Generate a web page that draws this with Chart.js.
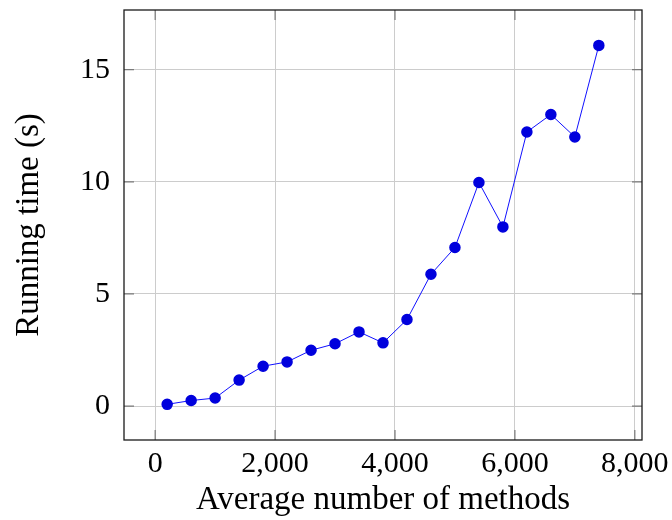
<!DOCTYPE html>
<html>
<head>
<meta charset="utf-8">
<script src="https://cdn.jsdelivr.net/npm/chart.js@4.4.1/dist/chart.umd.min.js"></script>
<style>
  html, body { margin: 0; padding: 0; background: #fff; }
  #wrap { width: 672px; height: 520px; }
</style>
</head>
<body>
<div id="wrap"><canvas id="c" width="672" height="520"></canvas></div>
<script>
// Average number of methods per program
const methods = [200, 600, 1000, 1400, 1800, 2200, 2600, 3000, 3400, 3800,
                 4200, 4600, 5000, 5400, 5800, 6200, 6600, 7000, 7400];
// Running time in seconds
const runningTime = [0.08, 0.25, 0.36, 1.16, 1.78, 1.97, 2.49, 2.78, 3.31, 2.82,
                     3.86, 5.88, 7.07, 9.97, 7.99, 12.22, 13.0, 12.0, 16.08];
const xTicks = [0, 2000, 4000, 6000, 8000];
const yTicks = [0, 5, 10, 15];

const FONT = "'Liberation Serif', 'DejaVu Serif', serif";

// Frame around the plot plus short inward tick marks on all four sides
const framePlugin = {
  id: 'frame',
  afterDatasetsDraw(chart) {
    const { ctx, chartArea: a, scales } = chart;
    ctx.save();
    ctx.strokeStyle = '#7a7a7a';
    ctx.lineWidth = 1.2;
    const len = 10;
    ctx.beginPath();
    scales.x.ticks.forEach(t => {
      const px = scales.x.getPixelForValue(t.value);
      ctx.moveTo(px, a.bottom); ctx.lineTo(px, a.bottom - len);
      ctx.moveTo(px, a.top); ctx.lineTo(px, a.top + len);
    });
    scales.y.ticks.forEach(t => {
      const py = scales.y.getPixelForValue(t.value);
      ctx.moveTo(a.left, py); ctx.lineTo(a.left + len, py);
      ctx.moveTo(a.right, py); ctx.lineTo(a.right - len, py);
    });
    ctx.stroke();
    ctx.strokeStyle = '#1a1a1a';
    ctx.lineWidth = 1.3;
    ctx.strokeRect(a.left, a.top, a.right - a.left, a.bottom - a.top);
    ctx.restore();
  }
};

new Chart(document.getElementById('c'), {
  type: 'line',
  data: {
    datasets: [{
      data: methods.map((m, i) => ({ x: m, y: runningTime[i] })),
      borderColor: '#1010ff',
      borderWidth: 1,
      pointBackgroundColor: '#0000dd',
      pointBorderColor: '#0000dd',
      pointBorderWidth: 1.5,
      pointRadius: 5,
      tension: 0,
      fill: false
    }]
  },
  options: {
    responsive: false,
    animation: false,
    devicePixelRatio: 1,
    layout: { padding: { top: 10, right: 30, left: 0, bottom: 0 } },
    plugins: { legend: { display: false }, tooltip: { enabled: false } },
    scales: {
      x: {
        type: 'linear',
        min: -520,
        max: 8120,
        afterBuildTicks: s => { s.ticks = xTicks.map(v => ({ value: v })); },
        afterFit: s => { s.height = 80; s.paddingLeft = 0; s.paddingRight = 0; },
        grid: { color: '#cccccc', lineWidth: 1, drawTicks: false },
        border: { display: false },
        ticks: {
          padding: 6,
          color: '#000',
          font: { family: FONT, size: 30 },
          callback: v => v.toLocaleString('en-US')
        },
        title: {
          display: true,
          text: 'Average number of methods',
          color: '#000',
          font: { family: FONT, size: 33 },
          padding: { top: 0, bottom: 0 }
        }
      },
      y: {
        type: 'linear',
        min: -1.51,
        max: 17.66,
        afterBuildTicks: s => { s.ticks = yTicks.map(v => ({ value: v })); },
        afterFit: s => { s.width = 124; s.paddingTop = 0; s.paddingBottom = 0; },
        grid: { color: '#cccccc', lineWidth: 1, drawTicks: false },
        border: { display: false },
        ticks: {
          padding: 14,
          color: '#000',
          font: { family: FONT, size: 30 },
          callback: v => String(v)
        },
        title: {
          display: true,
          text: 'Running time (s)',
          color: '#000',
          font: { family: FONT, size: 33 },
          padding: { top: 10, bottom: 0 }
        }
      }
    }
  },
  plugins: [framePlugin]
});
</script>
</body>
</html>
